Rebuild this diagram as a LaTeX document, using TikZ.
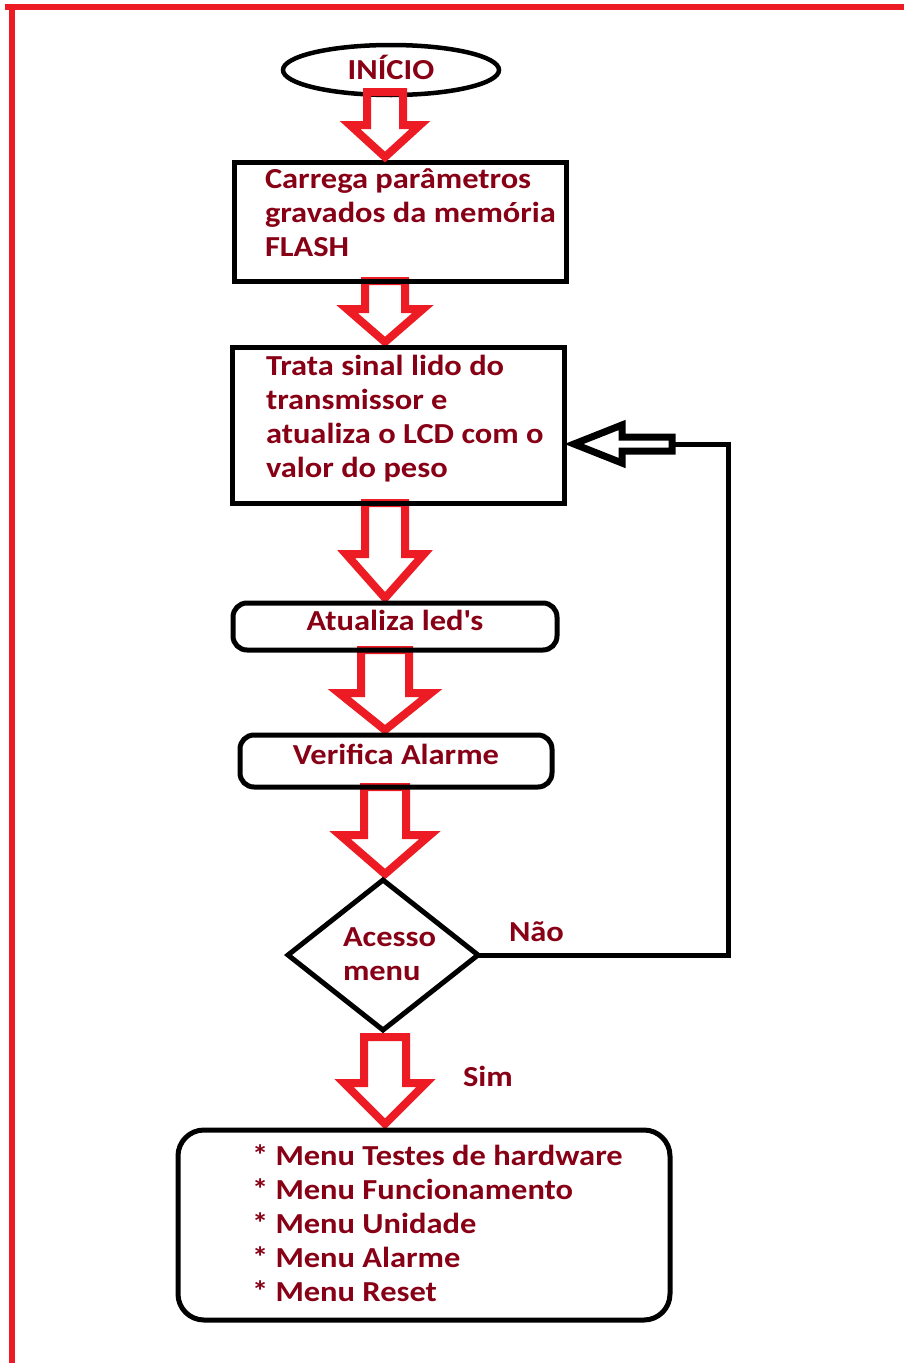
\documentclass[tikz,border=0pt]{standalone}
\usepackage{fontspec}
\setmainfont{Carlito}[FakeStretch=1.12]
\usetikzlibrary{shapes.geometric,calc,backgrounds}

\definecolor{paintred}{RGB}{237,28,36}
\definecolor{labelred}{RGB}{136,0,21}

\tikzset{
  shapebase/.style={draw=black, outer sep=0pt, inner sep=0pt},
  procbox/.style={shapebase, rectangle, line width=5pt},
  roundbox/.style={shapebase, rectangle, rounded corners=14pt, line width=5pt},
  menubox/.style={shapebase, rectangle, rounded corners=26pt, line width=5pt},
  termnode/.style={shapebase, ellipse, line width=4.5pt},
  decision/.style={shapebase, diamond, line width=5pt},
  lbl/.style={text=labelred, font=\bfseries\fontsize{29}{34}\selectfont,
              inner sep=0pt, outer sep=0pt},
  hollowred/.style={draw=paintred, line width=8pt, line join=miter},
  hollowblack/.style={draw=black, line width=7pt, line join=miter},
  loopline/.style={draw=black, line width=5pt},
  framerule/.style={draw=paintred, line width=6pt}
}

% hollow block arrow pointing down, from node #1 to node #2 along the spine
% #3 shaft half width, #4 head half width, #5 head length,
% #6 shift of the tail (up is positive), #7 gap left above the target
\newcommand\redarrow[7]{%
  \draw[hollowred] let \p1=(#1.south), \p2=(#2.north), \p3=(spine) in
    ({\x3-#3pt},{\y1+(#6pt)}) -- ({\x3-#3pt},{\y2+#7pt+#5pt})
    -- ({\x3-#4pt},{\y2+#7pt+#5pt}) -- ({\x3},{\y2+#7pt})
    -- ({\x3+#4pt},{\y2+#7pt+#5pt}) -- ({\x3+#3pt},{\y2+#7pt+#5pt})
    -- ({\x3+#3pt},{\y1+(#6pt)}) -- cycle;}

\begin{document}
\begin{tikzpicture}[x=1pt,y=-1pt]
\useasboundingbox (0,0) rectangle (904,1363);

\coordinate (spine) at (385,0);

% flowchart shapes
\node[termnode, lbl, draw=black, minimum width=216pt, minimum height=50pt,
      text height=18pt, text depth=0pt] (inicio) at (391,70) {INÍCIO};
\node[procbox, minimum width=332pt, minimum height=119pt] (carrega) at (400,221.5) {};
\node[procbox, minimum width=332pt, minimum height=156pt] (trata) at (398,425) {};
\node[roundbox, lbl, draw=black, minimum width=324pt, minimum height=47pt,
      text height=20pt, text depth=12pt] (leds) at (395,626.5) {Atualiza led\textquotesingle s};
\node[roundbox, lbl, draw=black, minimum width=312pt, minimum height=52pt,
      text height=20pt, text depth=14pt] (alarme) at (396,761) {Verifica Alarme};
\node[decision, minimum width=190pt, minimum height=150pt] (acesso) at (383,955) {};
\node[menubox, minimum width=492pt, minimum height=190pt] (menus) at (424,1225) {};

% texts
\node[lbl, anchor=base west] (carregatxt) at (265,188)
  {\begin{tabular}[t]{@{}l@{}}Carrega parâmetros\\gravados da memória\\FLASH\end{tabular}};
\node[lbl, anchor=base west] (tratatxt) at (266,375)
  {\begin{tabular}[t]{@{}l@{}}Trata sinal lido do\\transmissor e\\atualiza o LCD com o\\valor do peso\end{tabular}};
\node[lbl, anchor=base west] (acessotxt) at (343,946)
  {\begin{tabular}[t]{@{}l@{}}Acesso\\menu\end{tabular}};
\node[lbl, anchor=base west] (naotxt) at (509,941) {Não};
\node[lbl, anchor=base west] (simtxt) at (463,1086) {Sim};
\node[lbl, anchor=base west] (menustxt) at (252,1165)
  {\begin{tabular}[t]{@{}l@{}}{*} Menu Testes de hardware\\{*} Menu Funcionamento\\{*} Menu Unidade\\{*} Menu Alarme\\{*} Menu Reset\end{tabular}};

% page frame
\draw[framerule] (5,7) -- (904,7);
\draw[framerule] (12,4) -- (12,1363);

% arrows between the steps
\redarrow{inicio}{carrega}{18}{35}{32}{3}{5}
\begin{scope}[on background layer]
  \fill[white] (0,0) rectangle (904,1363);
  \redarrow{carrega}{trata}{20}{38}{33}{0}{5}
  \redarrow{trata}{leds}{20}{39}{44}{0}{5}
  \redarrow{leds}{alarme}{24}{46}{37}{0}{5}
  \redarrow{alarme}{acesso}{21}{45}{39}{0}{6}
  \redarrow{acesso}{menus}{21}{41}{41}{-7}{6}
\end{scope}

% "Não" branch back to the reading step
\coordinate (loopend) at (672,444);
\draw[loopline] (acesso.east) -- ++(250,0) |- (loopend);
\draw[hollowblack] let \p1=(loopend), \p2=(trata.east) in
  (\x1,{\y1+7pt}) -- ({\x2+58pt},{\y1+7pt}) -- ({\x2+58pt},{\y1+19pt})
  -- ({\x2+10pt},\y1) -- ({\x2+58pt},{\y1-19pt}) -- ({\x2+58pt},{\y1-7pt})
  -- (\x1,{\y1-7pt}) -- cycle;
\end{tikzpicture}
\end{document}
